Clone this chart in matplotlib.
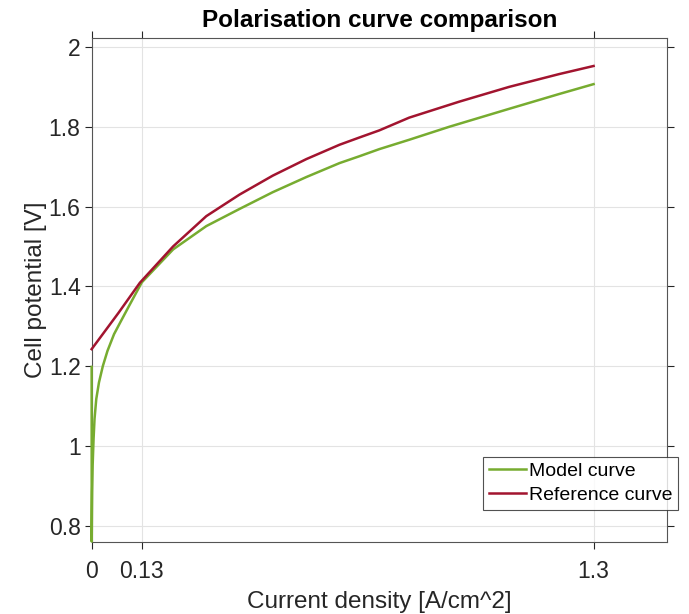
import numpy as np
import matplotlib.pyplot as plt

plt.rcParams['font.family'] = ['Liberation Sans', 'DejaVu Sans']

# model curve
model_i = [0.0, 0.0002, 0.0008, 0.0013, 0.0026, 0.005, 0.0075, 0.012, 0.019, 0.029,
           0.041, 0.058, 0.076, 0.097, 0.13, 0.211, 0.297, 0.383, 0.469, 0.556,
           0.642, 0.693, 0.745, 0.8225, 0.926, 1.081, 1.21, 1.3]
model_v = [1.198, 0.76, 0.835, 0.885, 0.951, 1.0175, 1.0675, 1.1175, 1.159, 1.20,
           1.238, 1.28, 1.313, 1.351, 1.41, 1.4925, 1.551, 1.594, 1.636, 1.674,
           1.709, 1.726, 1.744, 1.7675, 1.80, 1.845, 1.882, 1.907]

# reference curve
ref_i = [0.0, 0.07, 0.125, 0.211, 0.297, 0.383, 0.469, 0.556, 0.642, 0.693,
         0.745, 0.8225, 0.952, 1.081, 1.21, 1.3]
ref_v = [1.2425, 1.334, 1.409, 1.50, 1.576, 1.63, 1.6775, 1.719, 1.755, 1.773,
         1.791, 1.823, 1.863, 1.90, 1.932, 1.9525]

xticks = [0, 0.13, 1.3]
xticklabels = ['0', '0.13', '1.3']
yticks = [0.8, 1.0, 1.2, 1.4, 1.6, 1.8, 2.0]
yticklabels = ['0.8', '1', '1.2', '1.4', '1.6', '1.8', '2']

fig = plt.figure(figsize=(6.89, 6.14), dpi=100)
ax = fig.add_axes([0.133, 0.118, 0.835, 0.82])

ax.plot(model_i, model_v, color='#77AC30', lw=1.8, label='Model curve',
        clip_on=False, zorder=3)
ax.plot(ref_i, ref_v, color='#A2142F', lw=1.8, label='Reference curve',
        clip_on=False, zorder=3)

ax.set_xlim(0, 1.49)
ax.set_ylim(0.76, 2.0225)
ax.set_xticks(xticks)
ax.set_xticklabels(xticklabels)
ax.set_yticks(yticks)
ax.set_yticklabels(yticklabels)
ax.tick_params(direction='out', length=5, width=0.8, colors='#262626',
               labelsize=16.5, top=True, right=True)
ax.tick_params(axis='y', pad=3)
ax.tick_params(axis='x', pad=8)
for s in ax.spines.values():
    s.set_color('#555555')
    s.set_linewidth(0.8)
ax.grid(True, color='#e3e3e3', linewidth=0.8)
ax.set_axisbelow(True)

ax.set_xlabel('Current density [A/cm^2]', fontsize=17.5, color='#262626', labelpad=6)
ax.set_ylabel('Cell potential [V]', fontsize=17.5, color='#262626', labelpad=1)
ax.set_title('Polarisation curve comparison', fontsize=17.5, fontweight='bold', pad=8)

leg = ax.legend(loc='upper right', bbox_to_anchor=(0.984, 0.256),
                bbox_transform=fig.transFigure, fontsize=14, frameon=True,
                fancybox=False, edgecolor='#262626', handlelength=1.9,
                handletextpad=0.15, borderpad=0.3, labelspacing=0.3, borderaxespad=0)
leg.get_frame().set_linewidth(0.8)

fig.savefig('out.png', dpi=100)
